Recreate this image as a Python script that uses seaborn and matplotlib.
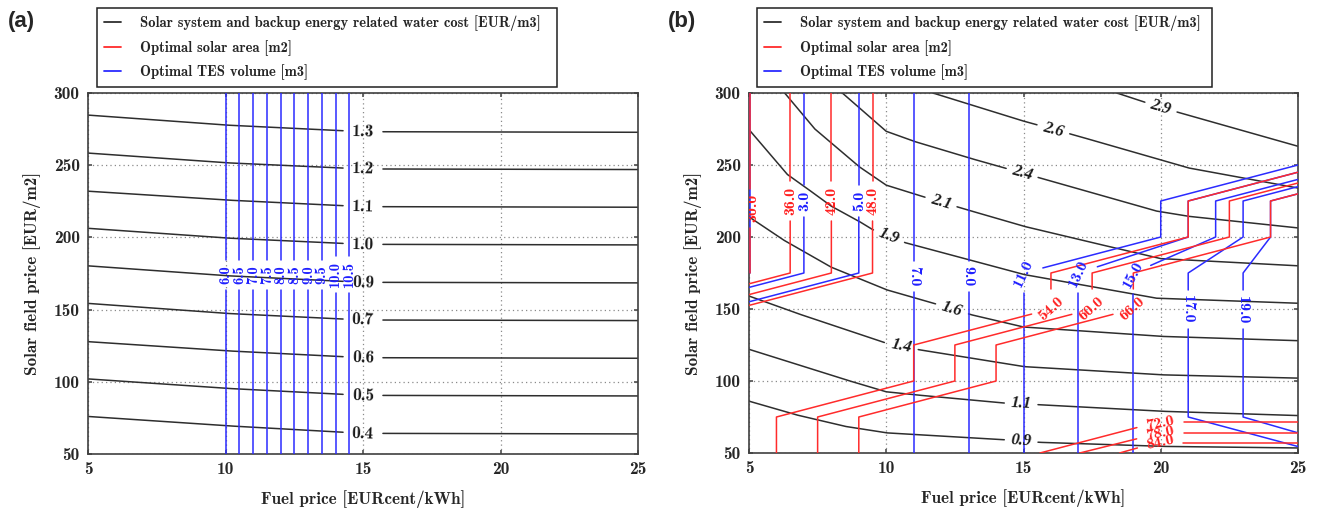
import numpy as np
import matplotlib
matplotlib.use("Agg")
import matplotlib.pyplot as plt
from matplotlib.lines import Line2D
import seaborn as sns

# ---------------- panel (a) data ----------------
a_cost_labels = ["1.3", "1.2", "1.1", "1.0", "0.9", "0.7", "0.6", "0.5", "0.4"]
a_cost_x = [5, 10, 15, 25]
a_cost_y = [
    [284.7, 277.8, 273.2, 272.8],
    [258.4, 251.7, 247.4, 247.0],
    [232.0, 225.9, 221.3, 220.9],
    [206.3, 199.6, 195.2, 194.8],
    [180.3, 173.5, 168.9, 168.5],
    [154.3, 147.4, 142.8, 142.4],
    [127.8, 121.5, 116.7, 116.3],
    [102.0, 95.5, 90.6, 90.2],
    [76.0, 69.6, 64.3, 63.9],
]
a_cost_label_x = 15.0
a_tes_labels = ["6.0", "6.5", "7.0", "7.5", "8.0", "8.5", "9.0", "9.5", "10.0", "10.5"]
a_tes_x = [10.0, 10.5, 11.0, 11.5, 12.0, 12.5, 13.0, 13.5, 14.0, 14.5]
a_tes_y = [50, 300]
a_tes_label_y = 174

# ---------------- panel (b) data ----------------
b_cost_labels = ["2.9", "2.6", "2.4", "2.1", "1.9", "1.6", "1.4", "1.1", "0.9"]
b_cost_x = [
    [18.4, 20.0, 25.0],
    [11.7, 15.0, 17.0, 20.0, 21.0, 25.0],
    [8.4, 10.0, 11.0, 13.0, 14.3, 15.6, 19.85, 21.0, 25.0],
    [6.3, 7.4, 9.0, 10.0, 11.0, 12.75, 15.0, 17.3, 20.0, 25.0],
    [5.0, 6.4, 7.0, 8.0, 9.0, 9.5, 10.7, 15.0, 19.85, 25.0],
    [5.0, 6.25, 8.0, 10.0, 11.9, 13.1, 15.0, 20.0, 25.0],
    [5.0, 6.75, 10.0, 11.2, 15.0, 20.0, 25.0],
    [5.0, 6.4, 8.5, 10.0, 11.0, 14.3, 15.6, 20.0, 25.0],
    [5.0, 6.7, 8.5, 10.0, 14.3, 15.6, 20.0, 25.0],
]
b_cost_y = [
    [300, 290, 263],
    [300, 280.5, 270, 253.5, 248, 234],
    [300, 273.4, 266.5, 255, 248, 241, 218, 214.4, 206.3],
    [300, 275, 249, 236, 230, 220, 207.5, 197, 185, 180],
    [274.6, 243.4, 235.3, 221.4, 211, 205.2, 196, 174, 157.5, 154],
    [214, 198, 179, 163.4, 153, 146, 137.5, 131, 128],
    [159, 147, 126.3, 121.7, 110, 104.3, 102],
    [122, 113.6, 101, 92.5, 90.5, 84.7, 83.5, 79, 76],
    [86, 76.6, 68.5, 64, 59.2, 57.4, 54.6, 53.5],
]
b_cost_label_xy = [(20.0, 290), (16.1, 274.5), (14.95, 244.6), (12.0, 224), (10.1, 200.5),
                   (12.4, 150), (10.55, 124.2), (14.9, 84.1), (14.9, 58.4)]

b_area_labels = ["30.0", "36.0", "42.0", "48.0", "54.0", "60.0", "66.0", "72.0", "78.0", "84.0"]
b_area_x = [
    [5.03, 5.03],
    [6.5, 6.5, 5.0],
    [8.0, 8.0, 5.0],
    [9.5, 9.5, 5.0],
    [6.0, 6.0, 11.0, 11.0, 16.0, 16.0, 21.0, 21.0, 25.0],
    [7.5, 7.5, 12.5, 12.5, 17.5, 17.5, 22.5, 22.5, 25.0],
    [9.0, 9.0, 14.0, 14.0, 19.0, 19.0, 24.0, 24.0, 25.0],
    [15.6, 19.9, 25.0],
    [17.05, 20.0, 25.0],
    [18.5, 19.8, 25.0],
]
b_area_y = [
    [300, 175],
    [300, 175, 167.5],
    [300, 175, 160],
    [300, 175, 152.5],
    [50, 75, 100, 125, 150, 175, 200, 225, 245],
    [50, 75, 100, 125, 150, 175, 200, 225, 237.5],
    [50, 75, 100, 125, 150, 175, 200, 225, 230],
    [50, 71.5, 71.5],
    [50, 64, 64],
    [50, 57, 57],
]
b_area_label_xy = [(5.12, 220), (6.5, 225), (8.0, 225), (9.5, 225), (16.0, 150), (17.45, 150),
                   (18.95, 150), (19.97, 71), (19.97, 64), (19.97, 57.5)]
b_area_label_rot = [90, 90, 90, 90, 42, 42, 42, 12, 12, 12]

b_tes_labels = ["1.0", "3.0", "5.0", "7.0", "9.0", "11.0", "13.0", "15.0", "17.0", "19.0"]
b_tes_x = [
    [5.02, 5.02],
    [7.0, 7.0, 5.0],
    [9.0, 9.0, 5.0],
    [11.0, 11.0],
    [13.0, 13.0],
    [15.0, 15.0, 20.0, 20.0, 25.0],
    [17.0, 17.0, 21.0, 21.0, 25.0],
    [19.0, 19.0, 22.0, 22.0, 25.0],
    [25.0, 21.0, 21.0, 23.0, 23.0, 25.0],
    [25.0, 23.0, 23.0, 24.0, 24.0, 25.0],
]
b_tes_y = [
    [300, 175],
    [300, 175, 165],
    [300, 175, 155],
    [50, 300],
    [50, 300],
    [50, 175, 200, 225, 250],
    [50, 175, 200, 225, 245],
    [50, 175, 200, 225, 240],
    [54.5, 75, 175, 200, 225, 235],
    [64, 75, 175, 200, 225, 230],
]
b_tes_label_xy = [None, (7.0, 225), (9.0, 225), (11.0, 172.5), (13.0, 172.5), (15.0, 175),
                  (17.0, 175), (19.0, 174), (21.0, 149.5), (23.0, 149.5)]
b_tes_label_rot = [None, 90, 90, -90, -90, 65, 65, 62, -90, -90]

x_ticks = [5, 10, 15, 20, 25]
y_ticks = [50, 100, 150, 200, 250, 300]
legend_texts = ["Solar system and backup energy related water cost [EUR/m3]",
                "Optimal solar area [m2]", "Optimal TES volume [m3]"]

# ---------------- style ----------------
sns.set_theme(style="white")
SERIF = ['cmb10', 'Liberation Serif', 'DejaVu Serif']
plt.rcParams['font.family'] = SERIF
plt.rcParams['axes.unicode_minus'] = False

C_BLACK = '#2e2e2e'
C_RED = '#ff2b2b'
C_BLUE = '#2b2bff'
LW = 1.1

W, H = 1317, 511
fig = plt.figure(figsize=(W / 100, H / 100), dpi=100)
fig.patch.set_facecolor('white')
renderer = fig.canvas.get_renderer()


def make_axes(left_px, right_px, top_px, bottom_px):
    ax = fig.add_axes([left_px / W, 1 - bottom_px / H, (right_px - left_px) / W, (bottom_px - top_px) / H])
    ax.set_xlim(5, 25)
    ax.set_ylim(50, 300)
    ax.autoscale(False)
    ax.set_xticks(x_ticks)
    ax.set_yticks(y_ticks)
    ax.grid(True, color='#8a8a8a', lw=0.9, ls=(0, (1, 2.5)))
    ax.tick_params(labelsize=12.5, direction='in', length=3, pad=6, top=True, right=True,
                   bottom=True, left=True, color='#555555')
    for s in ax.spines.values():
        s.set_visible(True)
        s.set_color('#404040')
        s.set_linewidth(1.2)
    ax.set_xlabel("Fuel price [EURcent/kWh]", fontsize=12.3, labelpad=9)
    ax.set_ylabel("Solar field price [EUR/m2]", fontsize=12.3, labelpad=9)
    return ax


def draw_line(ax, xs, ys, color, label=None, lxy=None, rot=None, fs=9, tcolor=None,
              family=None, style='normal', weight='normal', pad=5, clip=False, zorder=2):
    T = ax.transData
    P = T.transform(np.column_stack([xs, ys]).astype(float))
    dense = [P[:1]]
    for p0, p1 in zip(P[:-1], P[1:]):
        n = max(int(np.ceil(np.hypot(*(p1 - p0)))), 1)
        t = np.linspace(0, 1, n + 1)[1:, None]
        dense.append(p0 + (p1 - p0) * t)
    D = np.vstack(dense)
    keep = np.ones(len(D), bool)
    if label is not None and lxy is not None:
        c = T.transform([lxy])[0]
        txt = ax.text(lxy[0], lxy[1], label, fontsize=fs, color=tcolor or color,
                      family=family or SERIF, fontstyle=style, fontweight=weight,
                      ha='center', va='center', rotation_mode='anchor',
                      clip_on=clip, zorder=6)
        w = txt.get_window_extent(renderer).width
        if rot is None:
            i = int(np.argmin(np.hypot(*(D - c).T)))
            a, b = D[max(i - 4, 0)], D[min(i + 4, len(D) - 1)]
            ang = np.degrees(np.arctan2(b[1] - a[1], b[0] - a[0]))
            if ang > 90:
                ang -= 180
            if ang <= -90:
                ang += 180
            rot = ang
        txt.set_rotation(rot)
        keep = np.hypot(*(D - c).T) > w / 2 + pad
    edges = np.flatnonzero(np.diff(np.concatenate([[0], keep.astype(int), [0]])))
    inv = T.inverted()
    for s, e in zip(edges[::2], edges[1::2]):
        if e - s < 2:
            continue
        d = inv.transform(D[s:e])
        sns.lineplot(x=d[:, 0], y=d[:, 1], sort=False, estimator=None, color=color, lw=LW,
                     ax=ax, legend=False, zorder=zorder)


def add_legend(ax, left_px, right_px, top_px):
    handles = [Line2D([], [], color=c, lw=1.3) for c in (C_BLACK, C_RED, C_BLUE)]
    leg = ax.legend(handles, legend_texts, loc='upper left',
                    bbox_to_anchor=(left_px / W, 1 - top_px / H, (right_px - left_px) / W, 0.0),
                    bbox_transform=fig.transFigure, mode='expand', borderaxespad=0,
                    fancybox=False, frameon=True, edgecolor='#202020', framealpha=1,
                    prop={'family': SERIF, 'size': 10.5},
                    handlelength=1.15, handletextpad=1.3, labelspacing=0.6, borderpad=0.5)
    leg.get_frame().set_linewidth(1.1)


# ---------------- panel (a) ----------------
axa = make_axes(88, 638, 93, 454)
for lab, ys in zip(a_cost_labels, a_cost_y):
    ly = float(np.interp(a_cost_label_x, a_cost_x, ys))
    draw_line(axa, a_cost_x, ys, C_BLACK, label=lab, lxy=(a_cost_label_x, ly), fs=12.5,
              tcolor='#1a1a1a', pad=8)
for lab, x in zip(a_tes_labels, a_tes_x):
    draw_line(axa, [x, x], a_tes_y, C_BLUE, label=lab, lxy=(x, a_tes_label_y), rot=90,
              fs=10.5, tcolor='#1f1fff', pad=5, zorder=3)
add_legend(axa, 97, 557, 8)

# ---------------- panel (b) ----------------
axb = make_axes(749, 1298, 93, 453)
for lab, xs, ys, lxy in zip(b_cost_labels, b_cost_x, b_cost_y, b_cost_label_xy):
    draw_line(axb, xs, ys, C_BLACK, label=lab, lxy=lxy, fs=12, tcolor='#1a1a1a',
              family=['Liberation Serif'], style='italic', weight='bold', pad=6)
for lab, xs, ys, lxy, rot in zip(b_tes_labels, b_tes_x, b_tes_y, b_tes_label_xy, b_tes_label_rot):
    draw_line(axb, xs, ys, C_BLUE, label=lab if lxy else None, lxy=lxy, rot=rot, fs=11.5,
              tcolor='#1f1fff', pad=5, zorder=3)
for i, (lab, xs, ys, lxy, rot) in enumerate(zip(b_area_labels, b_area_x, b_area_y,
                                                b_area_label_xy, b_area_label_rot)):
    draw_line(axb, xs, ys, C_RED, label=lab, lxy=lxy, rot=rot, fs=11.5, tcolor='#ff1f1f',
              pad=5 if i < 7 else 9, clip=(i == 0), zorder=4)
add_legend(axb, 757, 1212, 8)

for ax in (axa, axb):
    ax.set_xlim(5, 25)
    ax.set_ylim(50, 300)

fig.text(8 / W, 1 - 22 / H, "(a)", fontsize=16, fontweight='bold', family='Liberation Sans',
         va='center', ha='left')
fig.text(668 / W, 1 - 22 / H, "(b)", fontsize=16, fontweight='bold', family='Liberation Sans',
         va='center', ha='left')

fig.savefig("out.png", dpi=100, facecolor='white')
